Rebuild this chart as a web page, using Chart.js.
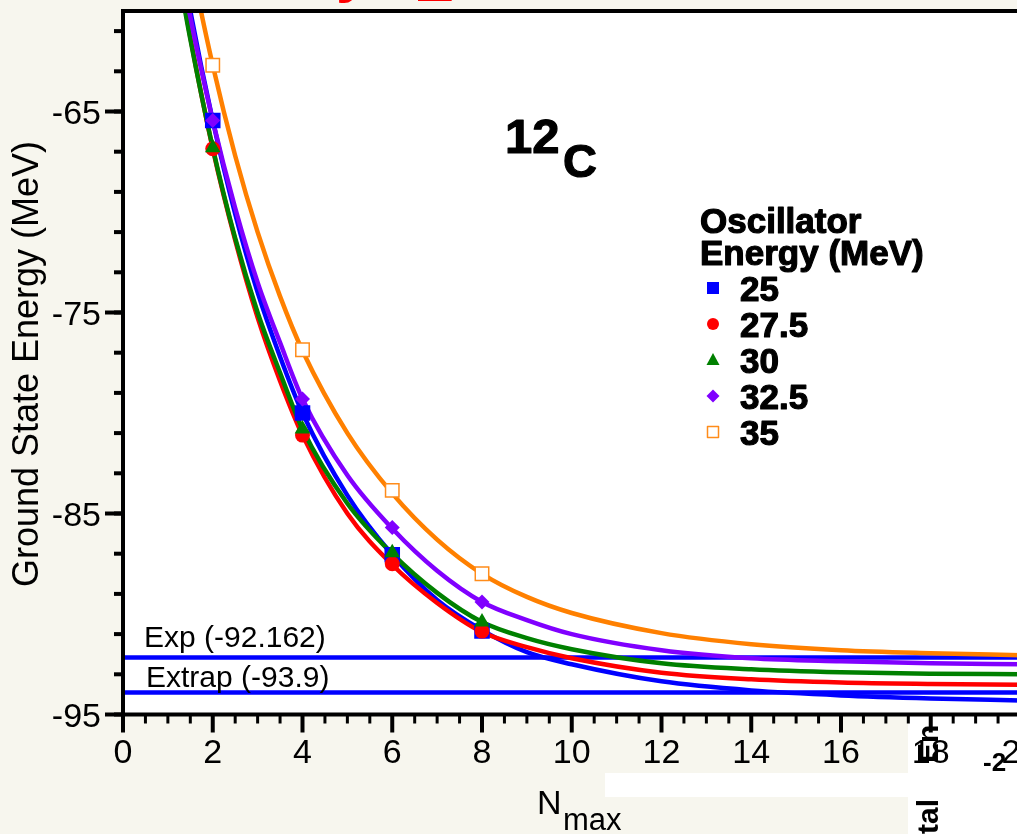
<!DOCTYPE html>
<html lang="en">
<head>
<meta charset="UTF-8">
<title>12C ground state energy vs Nmax</title>
<script src="https://cdn.jsdelivr.net/npm/chart.js@4.4.1/dist/chart.umd.min.js"></script>
<style>
  html, body { margin: 0; padding: 0; overflow: hidden; background: #f7f6ee; }
  canvas { display: block; }
</style>
</head>
<body>
<canvas id="nmaxChart" width="1040" height="834"></canvas>
<script>
// oscillator energies (MeV), one series each
const hwLabels = ['25', '27.5', '30', '32.5', '35'];
const seriesColors = ['#0000ff', '#ff0000', '#008000', '#8000ff', '#ff8000'];

// calculated ground state energies at Nmax = 2, 4, 6, 8
const nmaxPoints = [2, 4, 6, 8];
const calc25 = [-65.45, -80.0, -87.05, -90.85];
const calc275 = [-66.85, -81.1, -87.5, -90.85];
const calc30 = [-66.8, -80.8, -86.95, -90.4];
const calc325 = [-65.45, -79.3, -85.7, -89.4];
const calc35 = [-62.7, -76.85, -83.85, -88.0];

// fitted curves at these Nmax values
const curveN = [1.2, 1.5, 2, 2.5, 3, 3.5, 4, 5, 6, 7, 8, 9, 10, 12, 14, 16, 18, 20];
const fit25 = [-56.2, -60.0, -65.45, -70.1, -74.0, -77.2, -80.0, -84.1, -87.05, -89.3, -90.8, -91.9, -92.5, -93.35, -93.8, -94.05, -94.2, -94.3];
const fit275 = [-57.4, -61.3, -66.85, -71.4, -75.25, -78.4, -81.1, -85.0, -87.55, -89.45, -90.9, -91.65, -92.2, -92.92, -93.25, -93.41, -93.48, -93.52];
const fit30 = [-57.7, -61.4, -66.8, -71.3, -75.0, -78.0, -80.8, -84.5, -87.0, -88.95, -90.4, -91.2, -91.75, -92.45, -92.75, -92.9, -92.97, -93.0];
const fit325 = [-56.7, -60.3, -65.45, -69.8, -73.5, -76.5, -79.3, -83.1, -85.75, -87.85, -89.4, -90.3, -91.0, -91.8, -92.2, -92.35, -92.45, -92.5];
const fit35 = [-53.8, -57.4, -62.7, -67.2, -71.0, -74.2, -76.9, -81.0, -84.0, -86.3, -88.0, -89.15, -89.95, -90.95, -91.5, -91.8, -91.95, -92.05];

// reference levels
const expEnergy = -92.162;
const extrapEnergy = -93.9;

// axes
const xTickValues = [0, 2, 4, 6, 8, 10, 12, 14, 16, 18, 20];
const yTickValues = [-65, -75, -85, -95];

const FONT = "'Liberation Sans', Arial, Helvetica, sans-serif";
const CREAM = '#f7f6ee';

const pts = (xs, ys) => xs.map((x, i) => ({ x: x, y: ys[i] }));

function curve(ys, color, order) {
  return {
    data: pts(curveN, ys), showLine: true, borderColor: color, borderWidth: 4.5,
    pointRadius: 0, cubicInterpolationMode: 'monotone', order: order
  };
}
function level(value) {
  return {
    data: [{ x: 0, y: value }, { x: 20, y: value }], showLine: true,
    borderColor: '#0000ff', borderWidth: 4.5, pointRadius: 0, order: 20
  };
}

const datasets = [
  { data: pts(nmaxPoints, calc35), pointStyle: 'rect', pointRadius: 9.5, backgroundColor: '#ffffff',
    borderColor: '#ff8c1a', pointBorderWidth: 1.5, order: 1 },
  { data: pts(nmaxPoints, calc325), pointStyle: 'rectRot', pointRadius: 7.5, backgroundColor: seriesColors[3],
    pointBorderWidth: 0, order: 2 },
  { data: pts(nmaxPoints, calc30), pointStyle: 'triangle', pointRadius: 9, backgroundColor: seriesColors[2],
    pointBorderWidth: 0, order: 3 },
  { data: pts(nmaxPoints, calc275), pointStyle: 'circle', pointRadius: 7.5, backgroundColor: seriesColors[1],
    pointBorderWidth: 0, order: 4 },
  { data: pts(nmaxPoints, calc25), pointStyle: 'rect', pointRadius: 11, backgroundColor: seriesColors[0],
    pointBorderWidth: 0, order: 5 },
  curve(fit35, seriesColors[4], 11),
  curve(fit325, seriesColors[3], 12),
  curve(fit30, seriesColors[2], 13),
  curve(fit275, seriesColors[1], 14),
  curve(fit25, seriesColors[0], 15),
  level(expEnergy),
  level(extrapEnergy)
];

function legendMarker(ctx, i, x, y) {
  ctx.save();
  ctx.fillStyle = seriesColors[i];
  if (i === 0) {
    ctx.fillRect(x - 6, y - 6, 12, 12);
  } else if (i === 1) {
    ctx.beginPath(); ctx.arc(x, y, 6, 0, Math.PI * 2); ctx.fill();
  } else if (i === 2) {
    ctx.beginPath(); ctx.moveTo(x, y - 7); ctx.lineTo(x + 6.5, y + 5); ctx.lineTo(x - 6.5, y + 5); ctx.closePath(); ctx.fill();
  } else if (i === 3) {
    ctx.beginPath(); ctx.moveTo(x, y - 6.5); ctx.lineTo(x + 6.5, y); ctx.lineTo(x, y + 6.5); ctx.lineTo(x - 6.5, y); ctx.closePath(); ctx.fill();
  } else {
    ctx.fillStyle = '#ffffff';
    ctx.strokeStyle = '#ff8c1a';
    ctx.lineWidth = 1.5;
    ctx.fillRect(x - 5.5, y - 5.5, 11, 11);
    ctx.strokeRect(x - 5.5, y - 5.5, 11, 11);
  }
  ctx.restore();
}

function rotatedText(ctx, text, x, y, font) {
  ctx.save();
  ctx.translate(x, y);
  ctx.rotate(-Math.PI / 2);
  ctx.font = font;
  ctx.fillText(text, 0, 0);
  ctx.restore();
}

// the slide font is a very heavy grotesque, so thicken bold text a little
function heavyText(ctx, text, x, y) {
  ctx.fillText(text, x, y);
  ctx.strokeText(text, x, y);
}

const decor = {
  id: 'decor',
  beforeDraw(chart) {
    const ctx = chart.ctx, a = chart.chartArea;
    ctx.save();
    ctx.fillStyle = CREAM;
    ctx.fillRect(0, 0, chart.width, chart.height);

    // bits of the neighbouring slide that show through
    ctx.fillStyle = '#ffffff';
    ctx.fillRect(605, 773, 303, 24);
    ctx.fillRect(908, a.bottom, chart.width - 908, chart.height - a.bottom);
    ctx.fillStyle = '#000';
    ctx.textAlign = 'left';
    ctx.textBaseline = 'alphabetic';
    rotatedText(ctx, 'tal', 938, 834, 'bold 30px ' + FONT);
    rotatedText(ctx, 'En', 938, 763, 'bold 30px ' + FONT);
    ctx.font = 'bold 26px ' + FONT;
    ctx.fillText('-2', 983, 771);

    // red title, cut off at the top edge
    ctx.fillStyle = '#ff0000';
    ctx.font = 'bold 60px ' + FONT;
    ctx.fillText('y', 336, -9);
    ctx.fillText('E', 414, 1);

    ctx.fillStyle = '#ffffff';
    ctx.fillRect(a.left, a.top, a.right - a.left, a.bottom - a.top);
    ctx.restore();
  },
  afterDatasetsDraw(chart) {
    const ctx = chart.ctx, a = chart.chartArea;
    const xs = chart.scales.x, ys = chart.scales.y;
    ctx.save();
    ctx.strokeStyle = '#000';
    ctx.fillStyle = '#000';
    ctx.lineCap = 'butt';

    // minor + major ticks
    for (let v = 0; v <= 20.001; v += 0.5) {
      const px = xs.getPixelForValue(v);
      const major = xTickValues.includes(v);
      ctx.lineWidth = major ? 4 : 3;
      ctx.beginPath();
      ctx.moveTo(px, a.bottom);
      ctx.lineTo(px, a.bottom + (major ? 18 : 9));
      ctx.stroke();
    }
    for (let v = -95; v <= -60.001; v += 2) {
      const py = ys.getPixelForValue(v);
      ctx.lineWidth = 4;
      ctx.beginPath();
      ctx.moveTo(a.left, py);
      ctx.lineTo(a.left - 9, py);
      ctx.stroke();
    }
    yTickValues.forEach(v => {
      const py = ys.getPixelForValue(v);
      ctx.lineWidth = 4;
      ctx.beginPath();
      ctx.moveTo(a.left, py);
      ctx.lineTo(a.left - 18, py);
      ctx.stroke();
    });

    // frame
    ctx.lineWidth = 4;
    ctx.beginPath();
    ctx.moveTo(a.left - 2, a.top);
    ctx.lineTo(chart.width, a.top);
    ctx.moveTo(a.left, a.top - 2);
    ctx.lineTo(a.left, a.bottom + 2);
    ctx.moveTo(a.left - 2, a.bottom);
    ctx.lineTo(chart.width, a.bottom);
    ctx.stroke();

    // tick labels
    ctx.font = '34px ' + FONT;
    ctx.textBaseline = 'alphabetic';
    ctx.textAlign = 'center';
    xTickValues.forEach(v => ctx.fillText(String(v), xs.getPixelForValue(v), 763));
    ctx.textAlign = 'right';
    yTickValues.forEach(v => ctx.fillText(String(v), 101, ys.getPixelForValue(v) + 12));

    // axis titles
    ctx.textAlign = 'center';
    rotatedText(ctx, 'Ground State Energy (MeV)', 38, 364, '36px ' + FONT);
    ctx.textAlign = 'left';
    ctx.font = '34px ' + FONT;
    ctx.fillText('N', 537, 814);
    ctx.font = '31px ' + FONT;
    ctx.fillText('max', 563, 830);

    // reference level labels
    ctx.font = '30px ' + FONT;
    ctx.fillText('Exp (' + expEnergy + ')', 144, ys.getPixelForValue(expEnergy) - 10);
    ctx.fillText('Extrap (' + extrapEnergy + ')', 146, ys.getPixelForValue(extrapEnergy) - 5);

    // nucleus label
    ctx.lineWidth = 1.2;
    ctx.lineJoin = 'round';
    ctx.font = 'bold 49px ' + FONT;
    heavyText(ctx, '12', 505, 153);
    ctx.font = 'bold 47px ' + FONT;
    heavyText(ctx, 'C', 563, 177);

    // legend
    ctx.font = 'bold 35px ' + FONT;
    heavyText(ctx, 'Oscillator', 700, 233);
    heavyText(ctx, 'Energy (MeV)', 700, 265);
    hwLabels.forEach((lab, i) => {
      legendMarker(ctx, i, 713, 288 + i * 36);
      ctx.fillStyle = '#000';
      ctx.font = 'bold 35px ' + FONT;
      heavyText(ctx, lab, 740, 301 + i * 36);
    });
    ctx.restore();
  }
};

new Chart(document.getElementById('nmaxChart'), {
  type: 'scatter',
  data: { datasets: datasets },
  options: {
    responsive: false,
    animation: false,
    devicePixelRatio: 1,
    events: [],
    layout: { padding: { left: 123, top: 8, right: 19.5, bottom: 119.5 } },
    scales: {
      x: { type: 'linear', min: 0, max: 20, display: false },
      y: { type: 'linear', min: -95, max: -60, display: false }
    },
    plugins: { legend: { display: false }, tooltip: { enabled: false } }
  },
  plugins: [decor]
});
</script>
</body>
</html>
